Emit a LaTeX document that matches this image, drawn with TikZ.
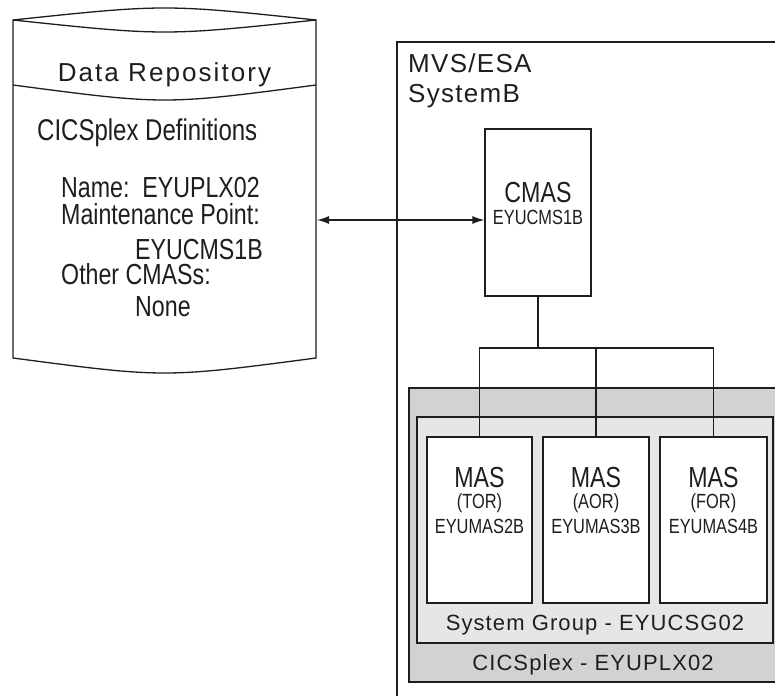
\documentclass[tikz,border=0pt]{standalone}
\usepackage{fontspec}
\setmainfont{Liberation Sans}
\newfontfamily\narrowfont[FakeStretch=0.8]{Liberation Sans}
\newfontfamily\widefont[LetterSpace=5]{Liberation Sans}
\newfontfamily\widerfont[LetterSpace=8]{Liberation Sans}
\usetikzlibrary{arrows.meta}
\definecolor{linec}{HTML}{1E1E1E}
\definecolor{plexgray}{HTML}{D2D2D2}
\definecolor{groupgray}{HTML}{E6E6E6}
\tikzset{
  box/.style={draw=linec, line width=1.3pt, fill=white, inner sep=0pt},
  lbl/.style={inner sep=0pt, text=linec},
  wire/.style={draw=linec, line width=1.3pt},
  big/.style={lbl, font=\narrowfont\fontsize{29}{31}\selectfont},
  small/.style={lbl, font=\narrowfont\fontsize{20.5}{22}\selectfont},
  repotxt/.style={lbl, anchor=base west, font=\narrowfont\fontsize{29}{31}\selectfont},
  sptxt/.style={lbl, font=\widefont\fontsize{22}{24}\selectfont},
}
\begin{document}
\begin{tikzpicture}[x=1pt,y=-1pt]
\useasboundingbox (0,0) rectangle (775,695);
\clip (0,0) rectangle (775,695);
% cylinder
\filldraw[fill=white, draw=linec, line width=1.3pt]
  (13,20) .. controls (164.5,4) .. (316,20) -- (316,358)
  .. controls (164.5,378) .. (13,358) -- cycle;
\draw[linec, line width=1.3pt] (13,20) .. controls (164.5,36) .. (316,20);
\draw[linec, line width=1.3pt] (13,85) .. controls (164.5,105) .. (316,85);
\coordinate (repoE) at (317,220);
\node[lbl, anchor=base, font=\widerfont\fontsize{26}{28}\selectfont] (drtitle) at (164.5,82) {Data Repository};
\node[repotxt, font=\narrowfont\fontsize{30}{32}\selectfont] (defs) at (37,141) {CICSplex Definitions};
\node[repotxt] (name) at (61,197) {Name:\ \ EYUPLX02};
\node[repotxt] (maint) at (61,224) {Maintenance Point:};
\node[repotxt] (mp) at (135,259) {EYUCMS1B};
\node[repotxt] (other) at (61,284) {Other CMASs:};
\node[repotxt] (none) at (135,316) {None};
% MVS box
\draw[linec, line width=1.6pt] (800,42) -- (397,42) -- (397,720);
\node[lbl, anchor=base west, font=\widefont\fontsize{26}{28}\selectfont] (mvs) at (408,73) {MVS/ESA};
\node[lbl, anchor=base west, font=\widefont\fontsize{26}{28}\selectfont] (sysb) at (408,103) {SystemB};
% CMAS
\node[box, minimum width=106pt, minimum height=167pt] (cmas) at (538,212.5) {};
\node[big] (cmast) at (538,193) {CMAS};
\node[small] (cmasn) at (538,217) {EYUCMS1B};
% CICSplex and system group
\node[draw=linec, line width=1.3pt, fill=plexgray, inner sep=0pt, minimum width=400pt, minimum height=294pt] (plex) at (609,535) {};
\node[draw=linec, line width=1.3pt, fill=groupgray, inner sep=0pt, minimum width=356pt, minimum height=226pt] (grp) at (595,530) {};
\node[sptxt] (grpl) at (595,625) {System Group - EYUCSG02};
\node[sptxt] (plexl) at (593,665) {CICSplex - EYUPLX02};
% MAS boxes
\node[box, minimum width=105pt, minimum height=166pt] (mas1) at (479.5,520) {};
\node[box, minimum width=106pt, minimum height=166pt] (mas2) at (596,520) {};
\node[box, minimum width=107pt, minimum height=166pt] (mas3) at (713.5,520) {};
\node[big] (m1a) at (479.5,478) {MAS};
\node[small] (m1b) at (479.5,503) {(TOR)};
\node[small] (m1c) at (479.5,526) {EYUMAS2B};
\node[big] (m2a) at (596,478) {MAS};
\node[small] (m2b) at (596,503) {(AOR)};
\node[small] (m2c) at (596,526) {EYUMAS3B};
\node[big] (m3a) at (713.5,478) {MAS};
\node[small] (m3b) at (713.5,503) {(FOR)};
\node[small] (m3c) at (713.5,526) {EYUMAS4B};
% connectors
\coordinate (busy) at (0,348);
\draw[wire] (cmas.south) -- (cmas.south |- busy);
\draw[wire] (mas1.north) -- (mas1.north |- busy) -- (mas3.north |- busy) -- (mas3.north);
\draw[wire] (mas2.north) -- (mas2.north |- busy);
\draw[wire, {Latex[length=12pt,width=8pt]}-{Latex[length=12pt,width=8pt]}] (repoE) -- (cmas.west |- repoE);
\end{tikzpicture}
\end{document}
